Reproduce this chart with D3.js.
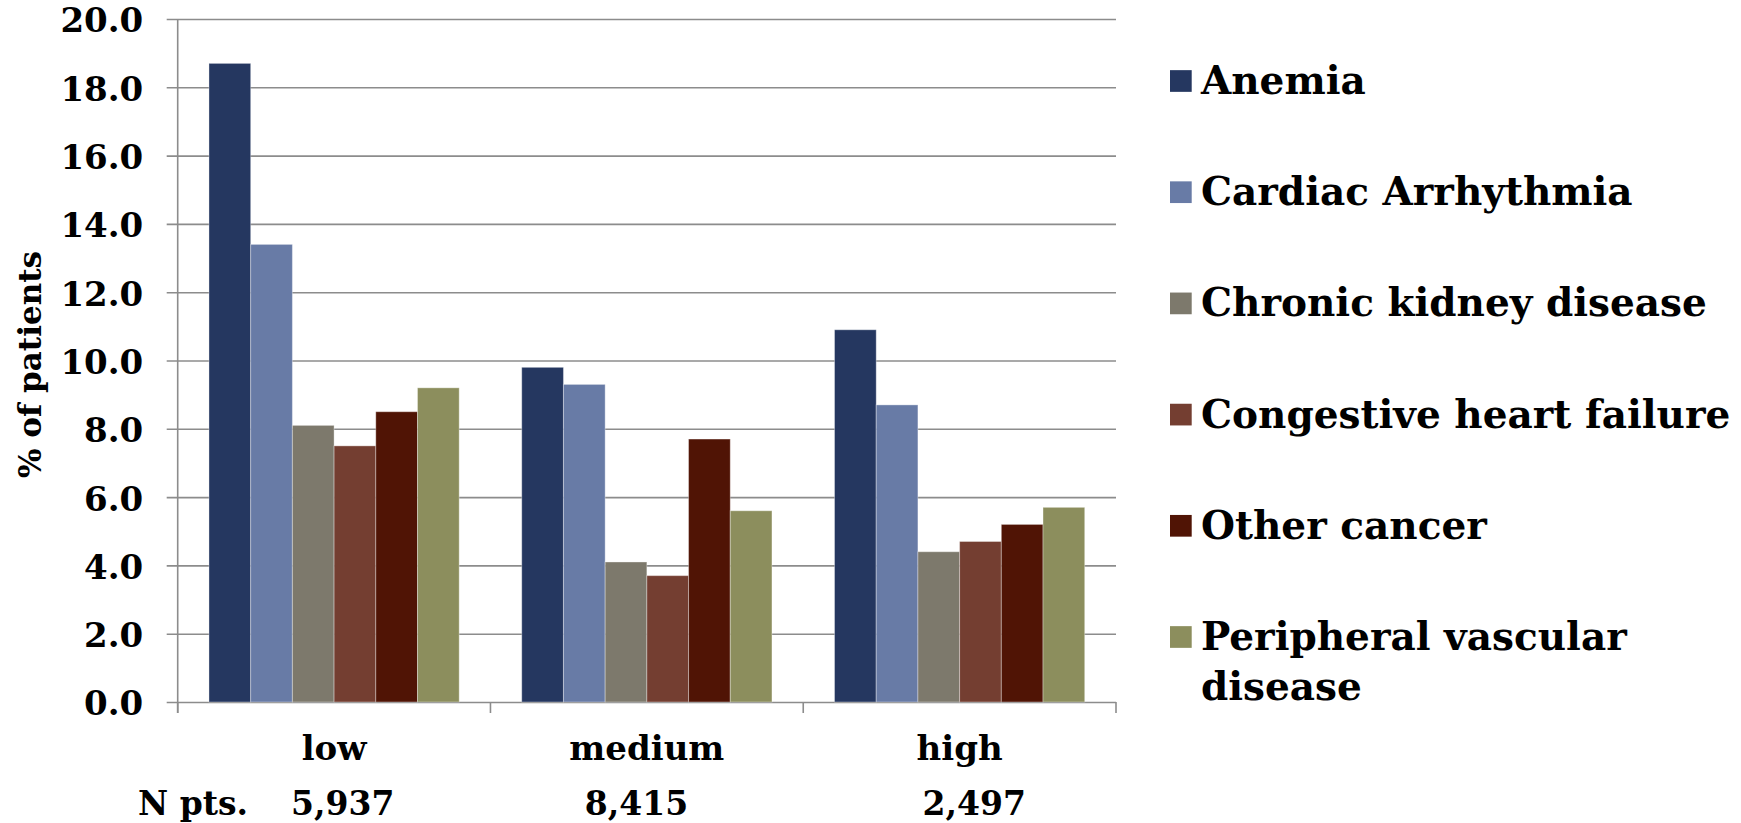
<!DOCTYPE html>
<html>
<head>
<meta charset="utf-8">
<script src="https://cdn.jsdelivr.net/npm/d3@7"></script>
<style>
  html, body { margin: 0; padding: 0; background: #ffffff; }
  svg { display: block; }
  text { font-family: "DejaVu Serif", "Liberation Serif", serif; font-weight: bold; fill: #000; }
</style>
</head>
<body>
<svg id="chart" width="1741" height="823"></svg>
<script>
// Comorbidity prevalence by risk group
const categories = ["low", "medium", "high"];
const patientCounts = ["5,937", "8,415", "2,497"];
const seriesNames = [
  "Anemia",
  "Cardiac Arrhythmia",
  "Chronic kidney disease",
  "Congestive heart failure",
  "Other cancer",
  "Peripheral vascular disease"
];
const anemia = [18.7, 9.8, 10.9];
const cardiacArrhythmia = [13.4, 9.3, 8.7];
const chronicKidney = [8.1, 4.1, 4.4];
const congestiveHeart = [7.5, 3.7, 4.7];
const otherCancer = [8.5, 7.7, 5.2];
const peripheralVascular = [9.2, 5.6, 5.7];
const yTicks = [0, 2, 4, 6, 8, 10, 12, 14, 16, 18, 20];

const seriesValues = [anemia, cardiacArrhythmia, chronicKidney, congestiveHeart, otherCancer, peripheralVascular];
const colors = ["#253760", "#687ba6", "#7d796c", "#743e31", "#501405", "#8c8e5d"];

// Layout
const plot = { left: 177.7, right: 1116, top: 19, bottom: 702 };
const tickLen = 11;
const countOffsets = [-43, -62, -37];   // N-row text start, relative to group centre
const legend = { x: 1170, textX: 1201, top: 81, step: 111.2, box: 21.7, lineH: 50 };

const svg = d3.select("#chart");
svg.append("rect").attr("width", 1741).attr("height", 823).attr("fill", "#fff");

const y = d3.scaleLinear().domain([0, 20]).range([plot.bottom, plot.top]);
const x0 = d3.scaleBand().domain(categories).range([plot.left, plot.right]).padding(0);
const x1 = d3.scaleBand().domain(seriesNames).range([0, x0.bandwidth()])
  .paddingInner(0).paddingOuter(0.75);
const color = d3.scaleOrdinal().domain(seriesNames).range(colors);

// Horizontal gridlines with tick labels
const yAxis = d3.axisLeft(y)
  .tickValues(yTicks)
  .tickFormat(d3.format(".1f"))
  .tickSize(-(plot.right - plot.left + tickLen))
  .tickPadding(23.5);
const gy = svg.append("g")
  .attr("transform", `translate(${plot.left - tickLen},0)`)
  .call(yAxis);
gy.select(".domain").remove();
gy.selectAll(".tick line").attr("stroke", "#8c8c8c").attr("stroke-width", 1.6);
gy.selectAll(".tick text")
  .attr("dy", "0.38em")
  .style("font-size", "34px")
  .style("font-family", "'DejaVu Serif', serif")
  .style("font-weight", "bold")
  .attr("fill", "#000");

// Bars
const groups = svg.append("g").selectAll("g")
  .data(categories)
  .join("g")
  .attr("transform", d => `translate(${x0(d)},0)`);

groups.selectAll("rect")
  .data((c, ci) => seriesNames.map((s, si) => ({ series: s, value: seriesValues[si][ci] })))
  .join("rect")
  .attr("x", d => x1(d.series))
  .attr("y", d => y(d.value))
  .attr("width", x1.bandwidth())
  .attr("height", d => y(0) - y(d.value))
  .attr("fill", d => color(d.series))
  .attr("stroke", "rgba(255,255,255,0.35)")
  .attr("stroke-width", 1);

// Vertical axis line
svg.append("line")
  .attr("x1", plot.left).attr("x2", plot.left)
  .attr("y1", y(20)).attr("y2", y(0) + tickLen)
  .attr("stroke", "#8c8c8c").attr("stroke-width", 1.6);

// Category boundary ticks below the baseline
const boundaries = categories.map(c => x0(c)).concat([x0.range()[1]]);
svg.append("g").selectAll("line")
  .data(boundaries)
  .join("line")
  .attr("x1", d => d).attr("x2", d => d)
  .attr("y1", y(0)).attr("y2", y(0) + tickLen)
  .attr("stroke", "#8c8c8c").attr("stroke-width", 1.6);

// Category labels
const xAxis = d3.axisBottom(x0).tickSize(0).tickPadding(34);
const gx = svg.append("g").attr("transform", `translate(0,${y(0)})`).call(xAxis);
gx.select(".domain").remove();
gx.selectAll(".tick text")
  .style("font-size", "34px")
  .style("font-family", "'DejaVu Serif', serif")
  .style("font-weight", "bold")
  .attr("fill", "#000");

// Patient counts row
svg.append("text")
  .attr("x", 138).attr("y", 815)
  .style("font-size", "33px")
  .text("N pts.");
svg.append("g").selectAll("text")
  .data(categories)
  .join("text")
  .attr("x", (c, i) => x0(c) + x0.bandwidth() / 2 + countOffsets[i])
  .attr("y", 815)
  .style("font-size", "33px")
  .text((c, i) => patientCounts[i]);

// Y axis title
svg.append("text")
  .attr("transform", `translate(41,${(plot.top + plot.bottom) / 2 + 4}) rotate(-90)`)
  .attr("text-anchor", "middle")
  .style("font-size", "31px")
  .text("% of patients");

// Legend
const legendItems = svg.append("g").selectAll("g")
  .data(seriesNames)
  .join("g")
  .attr("transform", (d, i) => `translate(0,${legend.top + i * legend.step})`);

legendItems.append("rect")
  .attr("x", legend.x)
  .attr("y", -legend.box / 2)
  .attr("width", legend.box)
  .attr("height", legend.box)
  .attr("fill", d => color(d));

const legendLines = {
  "Peripheral vascular disease": ["Peripheral vascular", "disease"]
};
legendItems.append("text")
  .attr("x", legend.textX)
  .attr("y", 13)
  .style("font-size", "39px")
  .each(function (d) {
    const lines = legendLines[d] || [d];
    d3.select(this).selectAll("tspan")
      .data(lines)
      .join("tspan")
      .attr("x", legend.textX)
      .attr("dy", (l, i) => i === 0 ? 0 : legend.lineH)
      .text(l => l);
  });
</script>
</body>
</html>
